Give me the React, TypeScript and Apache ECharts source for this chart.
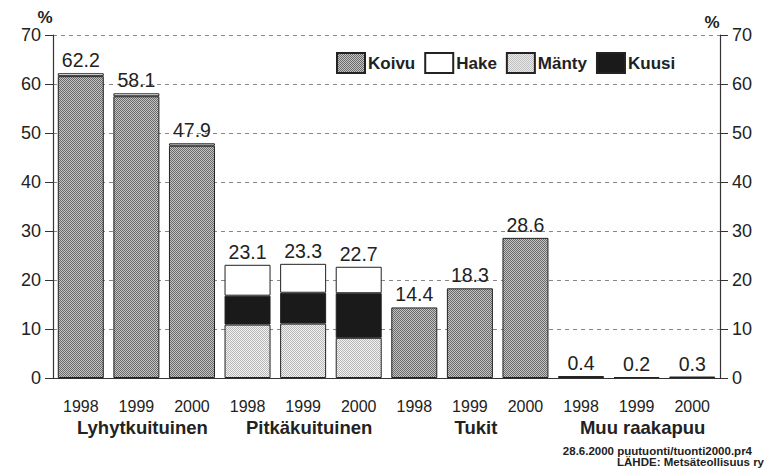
import React, { useEffect, useRef } from "react";
import * as echarts from "echarts";

const categories = ["1998", "1999", "2000", "1998", "1999", "2000", "1998", "1999", "2000", "1998", "1999", "2000"];
const groups = ["Lyhytkuituinen", "Pitkäkuituinen", "Tukit", "Muu raakapuu"];
const koivu = [61.6, 57.5, 47.4, null, null, null, 14.4, 18.3, 28.6, 0.4, 0.2, 0.3];
const manty = [null, null, null, 10.9, 11.1, 8.2, null, null, null, null, null, null];
const kuusi = [null, null, null, 5.9, 6.3, 9.1, null, null, null, null, null, null];
const hake = [0.6, 0.6, 0.5, 6.3, 5.9, 5.4, null, null, null, null, null, null];
const totals = [62.2, 58.1, 47.9, 23.1, 23.3, 22.7, 14.4, 18.3, 28.6, 0.4, 0.2, 0.3];
const footnote1 = "28.6.2000 puutuonti/tuonti2000.pr4";
const footnote2 = "LÄHDE: Metsäteollisuus ry";

const FONT = "Liberation Sans";

function checker(c1: string, c2: string) {
  const cv = document.createElement("canvas");
  cv.width = 2;
  cv.height = 2;
  const ctx = cv.getContext("2d")!;
  ctx.fillStyle = c1;
  ctx.fillRect(0, 0, 1, 1);
  ctx.fillRect(1, 1, 1, 1);
  ctx.fillStyle = c2;
  ctx.fillRect(1, 0, 1, 1);
  ctx.fillRect(0, 1, 1, 1);
  return cv;
}

export default function App() {
  const ref = useRef<HTMLDivElement>(null);
  useEffect(() => {
    document.body.style.margin = "0";
    const chart = echarts.init(ref.current!, null, { renderer: "svg" });
    const koivuFill = { image: checker("#6a6a6a", "#c4c4c4"), repeat: "repeat" };
    const mantyFill = { image: checker("#b8b8b8", "#f2f2f2"), repeat: "repeat" };
    const border = { borderColor: "#222", borderWidth: 1 };
    const barW = 46;
    const common = {
      type: "bar",
      stack: "a",
      barWidth: barW,
      barGap: "-100%",
      xAxisIndex: 0,
      yAxisIndex: 0,
    };
    const yAxisBase = {
      type: "value",
      min: 0,
      max: 70,
      interval: 10,
      name: "%",
      nameLocation: "end",
      nameGap: 4,
      nameTextStyle: { fontFamily: FONT, fontSize: 17, fontWeight: "bold", color: "#222", padding: [0, 16, 0, 0] },
      axisLine: { show: true, lineStyle: { color: "#333", width: 1.2 } },
      axisTick: { show: true, length: 8, lineStyle: { color: "#333" } },
      axisLabel: { fontFamily: FONT, fontSize: 18, color: "#222", margin: 12 },
    };
    chart.setOption({
      animation: false,
      backgroundColor: "#fff",
      grid: { left: 53, right: 47, top: 35, bottom: 92, containLabel: false },
      legend: {
        data: ["Koivu", "Hake", "Mänty", "Kuusi"],
        left: 331,
        top: 47,
        itemWidth: 28,
        itemHeight: 20,
        itemGap: 9,
        icon: "rect",
        textStyle: { fontFamily: FONT, fontSize: 17, fontWeight: "bold", color: "#222", padding: [0, 0, 0, -2] },
        selectedMode: false,
      },
      xAxis: [
        {
          type: "category",
          data: categories,
          position: "bottom",
          axisLine: { lineStyle: { color: "#333", width: 1.2 } },
          axisTick: { alignWithLabel: true, length: 8, lineStyle: { color: "#333" } },
          axisLabel: { fontFamily: FONT, fontSize: 16, color: "#222", margin: 20, interval: 0 },
        },
        {
          type: "category",
          data: categories,
          position: "top",
          axisLine: { show: true, lineStyle: { color: "#333", width: 1.2 } },
          axisTick: { show: false },
          axisLabel: { show: false },
        },
        {
          type: "category",
          data: groups,
          position: "bottom",
          axisLine: { show: false },
          axisTick: { show: false },
          axisLabel: {
            fontFamily: FONT,
            fontSize: 18.5,
            fontWeight: "bold",
            color: "#222",
            margin: 40,
            interval: 0,
            padding: [0, 0, 0, 12],
          },
        },
      ],
      yAxis: [
        {
          ...yAxisBase,
          position: "left",
          splitLine: { show: true, lineStyle: { color: "#888", type: [4, 4], width: 1 } },
        },
        {
          ...yAxisBase,
          position: "right",
          splitLine: { show: false },
        },
      ],
      series: [
        { ...common, name: "Koivu", data: koivu, itemStyle: { color: koivuFill, ...border } },
        { ...common, name: "Mänty", data: manty, itemStyle: { color: mantyFill, ...border } },
        { ...common, name: "Kuusi", data: kuusi, itemStyle: { color: "#1a1a1a", ...border } },
        { ...common, name: "Hake", data: hake, itemStyle: { color: "#ffffff", ...border } },
        {
          type: "bar",
          name: "Yhteensä",
          data: totals,
          barWidth: barW,
          barGap: "-100%",
          silent: true,
          z: 1,
          itemStyle: { color: "rgba(0,0,0,0)" },
          label: {
            show: true,
            position: "top",
            distance: 3,
            fontFamily: FONT,
            fontSize: 19.5,
            color: "#222",
            formatter: (p: any) => Number(p.value).toFixed(1),
          },
        },
      ],
      graphic: [
        {
          type: "text",
          right: 15,
          top: 445,
          style: { text: footnote1, font: `bold 11.5px ${FONT}`, fill: "#222" },
        },
        {
          type: "text",
          right: 3,
          top: 456,
          style: { text: footnote2, font: `bold 11.5px ${FONT}`, fill: "#222" },
        },
      ],
    });
    return () => chart.dispose();
  }, []);
  return <div ref={ref} style={{ position: "fixed", left: 0, top: 0, width: 767, height: 470 }} />;
}
